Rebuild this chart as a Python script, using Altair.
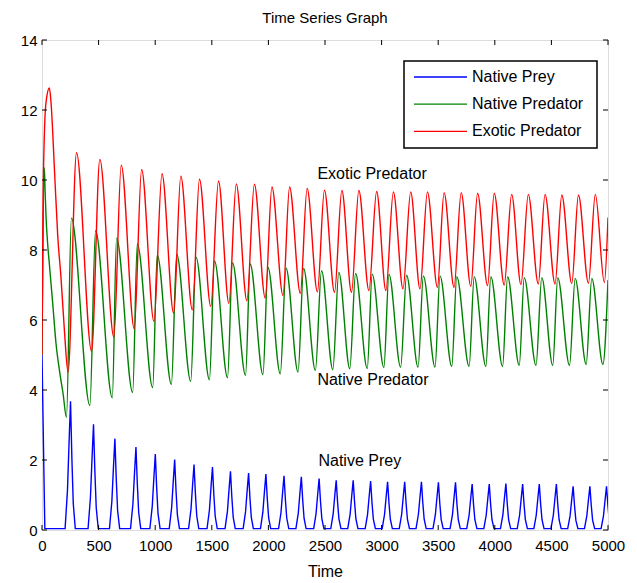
import altair as alt
import pandas as pd

FONT = "Liberation Sans"
SERIES = ["Native Prey", "Native Predator", "Exotic Predator"]
COLORS = ["#0000FF", "#008000", "#FF0000"]

X_TICKS = [0, 500, 1000, 1500, 2000, 2500, 3000, 3500, 4000, 4500, 5000]
Y_TICKS = [0, 2, 4, 6, 8, 10, 12, 14]

# ---- Native prey (spikes) ----
PREY_START_T = [0, 25]
PREY_START_V = [5.0, 0.04]
PREY_PEAK_T = [252, 455, 644, 830, 1001, 1172, 1343, 1506, 1665, 1825, 1978,
               2138, 2291, 2448, 2599, 2749, 2903, 3053, 3204, 3352, 3502,
               3653, 3800, 3951, 4098, 4246, 4393, 4544, 4692, 4840, 4987]
PREY_PEAK_V = [3.68, 3.02, 2.61, 2.37, 2.17, 2.01, 1.87, 1.80, 1.68, 1.63, 1.60,
               1.55, 1.52, 1.47, 1.42, 1.42, 1.40, 1.38, 1.38, 1.38, 1.36,
               1.36, 1.31, 1.31, 1.33, 1.31, 1.31, 1.31, 1.25, 1.25, 1.25]
PREY_BASE = 0.04
# spike profile (time offset from peak, fraction of peak)
PREY_SHAPE_DT = [-48, -27, -12, 0, 12, 24, 42]
PREY_SHAPE_FRAC = [0.0, 0.3, 0.7, 1.0, 0.55, 0.2, 0.0]

# ---- Native predator ----
GREEN_START_T = [0, 21, 27, 36, 50, 65, 80, 95, 124, 154, 186]
GREEN_START_V = [5.0, 10.35, 9.7, 8.93, 8.17, 7.6, 7.03, 6.46, 5.32, 4.56, 3.9]
GREEN_TROUGH_T = [216, 423, 621, 801, 978, 1143, 1314, 1479, 1639, 1798, 1952,
                  2105, 2262, 2415, 2569, 2719, 2873, 3020, 3168, 3322, 3472,
                  3620, 3773, 3921, 4069, 4216, 4364, 4512, 4660, 4807, 4955]
GREEN_TROUGH_V = [3.22, 3.56, 3.78, 3.93, 4.07, 4.16, 4.25, 4.29, 4.35, 4.42, 4.44,
                  4.46, 4.51, 4.56, 4.58, 4.61, 4.61, 4.64, 4.65, 4.65, 4.65,
                  4.67, 4.67, 4.67, 4.67, 4.70, 4.70, 4.70, 4.70, 4.73, 4.73]
GREEN_PEAK_T = [260, 473, 659, 842, 1018, 1190, 1361, 1524, 1683, 1839, 1996,
                2156, 2311, 2469, 2622, 2770, 2917, 3065, 3221, 3369, 3516,
                3664, 3818, 3965, 4113, 4260, 4415, 4556, 4710, 4857, 5000]
GREEN_PEAK_V = [8.91, 8.55, 8.34, 8.17, 7.86, 7.88, 7.79, 7.69, 7.64, 7.60, 7.50,
                7.48, 7.47, 7.41, 7.36, 7.33, 7.31, 7.31, 7.28, 7.26, 7.26,
                7.24, 7.24, 7.24, 7.24, 7.21, 7.21, 7.21, 7.19, 7.19, 7.14]

# ---- Exotic predator ----
RED_START_T = [0, 8, 20, 35, 65, 80, 110, 139, 168, 198]
RED_START_V = [5.0, 9.0, 11.2, 12.2, 12.63, 12.2, 10.3, 8.4, 7.2, 5.7]
RED_TROUGH_T = [230, 438, 635, 815, 989, 1163, 1328, 1491, 1651, 1810, 1972,
                2129, 2282, 2433, 2584, 2734, 2888, 3038, 3189, 3339, 3493,
                3640, 3788, 3936, 4083, 4231, 4384, 4532, 4680, 4827, 4968]
RED_TROUGH_V = [4.51, 5.11, 5.51, 5.75, 5.96, 6.19, 6.29, 6.39, 6.48, 6.55, 6.63,
                6.70, 6.76, 6.80, 6.79, 6.79, 6.84, 6.84, 6.89, 6.89, 6.93,
                6.93, 6.96, 6.98, 7.00, 7.01, 7.03, 7.03, 7.04, 7.05, 7.07]
RED_PEAK_T = [305, 511, 700, 880, 1060, 1226, 1391, 1559, 1716, 1876, 2031,
              2187, 2342, 2495, 2649, 2799, 2956, 3104, 3257, 3405, 3552,
              3703, 3848, 3995, 4149, 4296, 4444, 4592, 4739, 4888, 5000]
RED_PEAK_V = [10.78, 10.59, 10.42, 10.30, 10.18, 10.11, 10.02, 9.97, 9.89, 9.88, 9.80,
              9.80, 9.76, 9.71, 9.70, 9.70, 9.67, 9.66, 9.66, 9.66, 9.64,
              9.64, 9.62, 9.62, 9.59, 9.59, 9.59, 9.57, 9.57, 9.59, 8.93]

# in-plot labels
ANNOT_TEXT = ["Exotic Predator", "Native Predator", "Native Prey"]
ANNOT_T = [2433, 2433, 2442]
ANNOT_V = [10.17, 4.30, 1.97]

# ---------- build table ----------
rows = []


def add(name, ts, vs):
    for t, v in zip(ts, vs):
        rows.append({"t": t, "v": v, "series": name, "order": len(rows)})


prey_t = list(PREY_START_T)
prey_v = list(PREY_START_V)
for p, h in zip(PREY_PEAK_T, PREY_PEAK_V):
    for dt, fr in zip(PREY_SHAPE_DT, PREY_SHAPE_FRAC):
        prey_t.append(p + dt)
        prey_v.append(PREY_BASE + fr * (h - PREY_BASE))
add("Native Prey", prey_t, prey_v)

g_t = list(GREEN_START_T)
g_v = list(GREEN_START_V)
for a, b, c, d in zip(GREEN_TROUGH_T, GREEN_TROUGH_V, GREEN_PEAK_T, GREEN_PEAK_V):
    g_t += [a, c]
    g_v += [b, d]
add("Native Predator", g_t, g_v)

r_t = list(RED_START_T)
r_v = list(RED_START_V)
for a, b, c, d in zip(RED_TROUGH_T, RED_TROUGH_V, RED_PEAK_T, RED_PEAK_V):
    r_t += [a, c]
    r_v += [b, d]
add("Exotic Predator", r_t, r_v)

df = pd.DataFrame(rows)

W, H = 566, 490

x_enc = alt.X("t:Q", scale=alt.Scale(domain=[0, 5000], nice=False),
              axis=alt.Axis(values=X_TICKS, format="d", tickSize=0, domain=False, grid=False,
                            labelFontSize=15, labelPadding=8, title="Time",
                            titleFontSize=16, titleFontWeight="normal", titlePadding=10,
                            labelColor="black", titleColor="black", labelFlush=False))
y_enc = alt.Y("v:Q", scale=alt.Scale(domain=[0, 14], nice=False),
              axis=alt.Axis(values=Y_TICKS, format="d", tickSize=0, domain=False, grid=False,
                            labelFontSize=15, labelPadding=5, title=None,
                            labelColor="black", labelFlush=False))
c_enc = alt.Color("series:N", scale=alt.Scale(domain=SERIES, range=COLORS), legend=None)

prey_line = alt.Chart(df).transform_filter(alt.datum.series == "Native Prey").mark_line(
    strokeWidth=1.4, clip=True).encode(x=x_enc, y=y_enc, color=c_enc, order="order:Q")
pred_lines = alt.Chart(df).transform_filter(alt.datum.series != "Native Prey").mark_line(
    strokeWidth=1.4, clip=True, interpolate="monotone").encode(
    x=x_enc, y=y_enc, color=c_enc, detail="series:N", order="order:Q")

xt = pd.DataFrame({"t": X_TICKS})
yt = pd.DataFrame({"v": Y_TICKS})
TL = 5
tick_b = alt.Chart(xt).mark_rule(color="black", strokeWidth=1).encode(
    x=x_enc, y=alt.value(H), y2=alt.value(H - TL))
tick_t = alt.Chart(xt).mark_rule(color="black", strokeWidth=1).encode(
    x=x_enc, y=alt.value(0), y2=alt.value(TL))
tick_l = alt.Chart(yt).mark_rule(color="black", strokeWidth=1).encode(
    y=y_enc, x=alt.value(0), x2=alt.value(TL))
tick_r = alt.Chart(yt).mark_rule(color="black", strokeWidth=1).encode(
    y=y_enc, x=alt.value(W), x2=alt.value(W - TL))

ann = alt.Chart(pd.DataFrame({"t": ANNOT_T, "v": ANNOT_V, "label": ANNOT_TEXT})).mark_text(
    align="left", baseline="middle", fontSize=16, color="black", font=FONT
).encode(x=x_enc, y=y_enc, text="label:N")

# legend box
one = pd.DataFrame({"a": [0]})
LX0, LX1, LY0, LY1 = 362, 555, 21, 108
leg_box = alt.Chart(one).mark_rect(fill="white", stroke="black", strokeWidth=1.5).encode(
    x=alt.value(LX0), x2=alt.value(LX1), y=alt.value(LY0), y2=alt.value(LY1))
leg_layers = [leg_box]
for i, (name, col) in enumerate(zip(SERIES, COLORS)):
    yy = 37 + 27.2 * i
    leg_layers.append(alt.Chart(one).mark_rule(color=col, strokeWidth=1.3).encode(
        x=alt.value(372), x2=alt.value(425), y=alt.value(yy)))
    leg_layers.append(alt.Chart(one).mark_text(
        text=name, align="left", baseline="middle", fontSize=16, color="black", font=FONT
    ).encode(x=alt.value(430), y=alt.value(yy)))

chart = alt.layer(prey_line, pred_lines, tick_b, tick_t, tick_l, tick_r, ann,
                  *leg_layers).properties(
    width=W, height=H,
    title=alt.TitleParams("Time Series Graph", fontSize=15, fontWeight="normal",
                          font=FONT, color="black", offset=7, anchor="middle"),
    autosize=alt.AutoSizeParams(type="none"),
    padding={"left": 42, "top": 40, "right": 29, "bottom": 53},
).configure_view(stroke="black", strokeWidth=2).configure(font=FONT).configure_axis(
    labelFont=FONT, titleFont=FONT)

chart.save("out.html", embed_options={"renderer": "svg", "actions": False})
